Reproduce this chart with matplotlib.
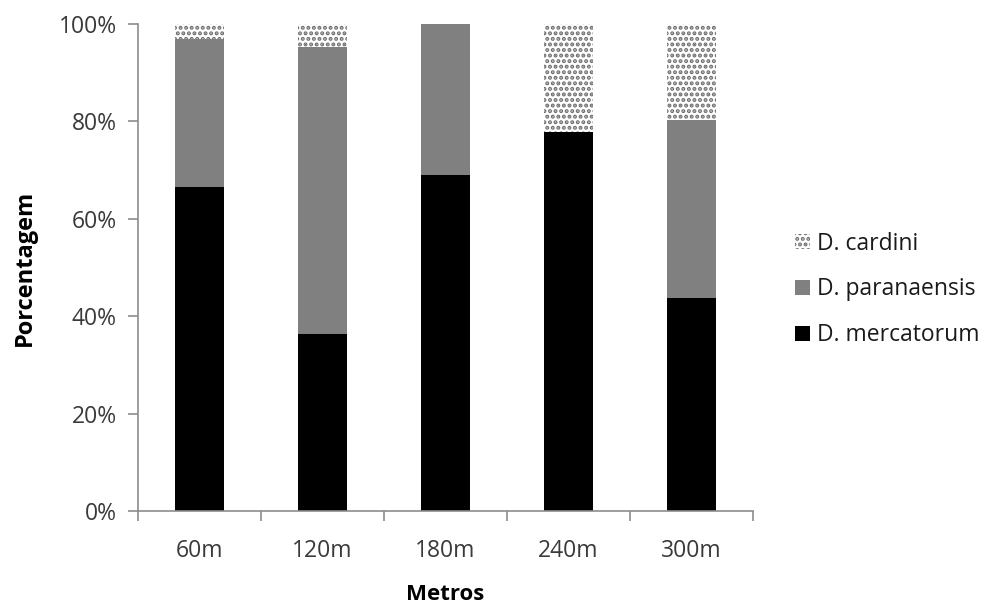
import numpy as np
import matplotlib
matplotlib.use("Agg")
import matplotlib.pyplot as plt
from matplotlib.ticker import PercentFormatter, MultipleLocator

plt.rcParams['font.family'] = ['Open Sans', 'DejaVu Sans']
plt.rcParams['hatch.linewidth'] = 2.0

# species share per distance (percent)
distances = ["60m", "120m", "180m", "240m", "300m"]
mercatorum = [66.6, 36.3, 69.0, 77.9, 43.7]
paranaensis = [30.3, 59.0, 31.0, 0.0, 36.6]
cardini = [3.1, 4.7, 0.0, 22.1, 19.7]

x = np.arange(len(distances))
width = 0.4

fig = plt.figure(figsize=(9.91, 6.15), dpi=100)
ax = fig.add_axes([0.139, 0.169, 0.621, 0.792])

b1 = ax.bar(x, mercatorum, width, color="black", label="D. mercatorum")
b2 = ax.bar(x, paranaensis, width, bottom=mercatorum, color="#808080",
            label="D. paranaensis")
base = np.array(mercatorum) + np.array(paranaensis)
b3 = ax.bar(x, cardini, width, bottom=base, facecolor="white", hatch="...",
            edgecolor="#707070", linewidth=0, label="D. cardini")

ax.set_xlim(-0.5, len(distances) - 0.5)
ax.set_ylim(0, 100)
ax.yaxis.set_major_locator(MultipleLocator(20))
ax.yaxis.set_major_formatter(PercentFormatter(decimals=0))

ax.set_xticks(x)
ax.set_xticklabels(distances)
ax.set_xticks(np.arange(-0.5, len(distances)), minor=True)
ax.tick_params(axis="x", which="major", length=0, pad=20)
ax.tick_params(axis="x", which="minor", length=7, color="#8c8c8c", width=1.2)
ax.tick_params(axis="y", length=7, color="#8c8c8c", width=1.2, pad=8)
ax.tick_params(labelsize=16.5, labelcolor="#3a3a3a")

for side in ("top", "right"):
    ax.spines[side].set_visible(False)
for side in ("left", "bottom"):
    ax.spines[side].set_color("#8c8c8c")
    ax.spines[side].set_linewidth(1.2)

ax.set_ylabel("Porcentagem", fontsize=17, fontweight="bold", labelpad=16)
ax.set_xlabel("Metros", fontsize=16, fontweight="bold", labelpad=15)

leg = ax.legend(handles=[b3, b2, b1], loc="center left",
                bbox_to_anchor=(1.035, 0.455), frameon=False, fontsize=16.5,
                handlelength=0.65, handleheight=0.65, handletextpad=0.3,
                labelspacing=0.95)
for txt in leg.get_texts():
    txt.set_color("#1a1a1a")

fig.savefig("out.png", dpi=100)
